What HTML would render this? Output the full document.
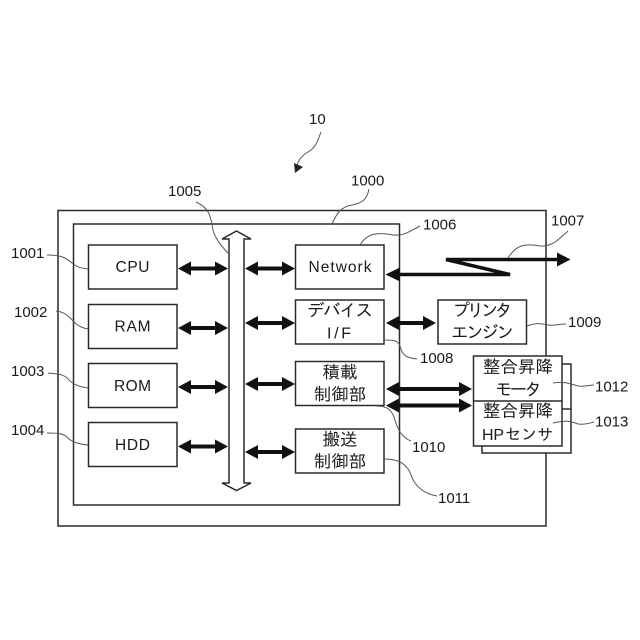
<!DOCTYPE html>
<html><head><meta charset="utf-8"><style>
html,body{margin:0;padding:0;background:#fff}
svg{display:block}
text{fill:#1a1a1a;font-family:"Liberation Sans","IPAGothic","Noto Sans CJK JP",sans-serif}
.l{font-size:15px}
.b{font-size:15.5px;text-anchor:middle}
.j{font-size:17.5px;text-anchor:middle}
.r{fill:#fff;stroke:#2a2a2a;stroke-width:1.5}
.c{fill:none;stroke:#555;stroke-width:1}
</style></head><body>
<svg width="640" height="640" viewBox="0 0 640 640" xmlns="http://www.w3.org/2000/svg">
<defs>
<g id="a"><path d="M0 0L13 -7V-2H37V-7L50 0L37 7V2H13V7Z" fill="#111"/></g>
</defs>
<rect x="58" y="210.500" width="488" height="315.500" fill="none" stroke="#2a2a2a" stroke-width="1.500"/>
<rect x="73.500" y="224" width="326" height="281" fill="none" stroke="#2a2a2a" stroke-width="1.500"/>

<rect class="r" x="88.500" y="245" width="88.500" height="44"/>
<rect class="r" x="88.500" y="304.500" width="88.500" height="44"/>
<rect class="r" x="88.500" y="363.500" width="88.500" height="44"/>
<rect class="r" x="88.500" y="422.500" width="88.500" height="44"/>
<rect class="r" x="295.500" y="245" width="88.500" height="44"/>
<rect class="r" x="295.500" y="300" width="88.500" height="44"/>
<rect class="r" x="295.500" y="361.500" width="88.500" height="44"/>
<rect class="r" x="295.500" y="429" width="88.500" height="44"/>
<rect class="r" x="438" y="300" width="88.500" height="44"/>

<rect class="r" x="482" y="364" width="89" height="89"/>
<path d="M562 409H571" stroke="#2a2a2a" stroke-width="1.500"/>
<rect class="r" x="473.500" y="356" width="88.500" height="90"/>
<path d="M473.500 401H562" stroke="#2a2a2a" stroke-width="1.500"/>

<path d="M236.500 231L251 239H244V483H251L236.500 490.500L222 483H229V239H222Z" fill="#fff" stroke="#2a2a2a" stroke-width="1.500"/>

<use href="#a" x="178" y="268.500"/>
<use href="#a" x="178" y="328"/>
<use href="#a" x="178" y="387"/>
<use href="#a" x="178" y="446.500"/>
<use href="#a" x="245" y="268.500"/>
<use href="#a" x="245" y="323"/>
<use href="#a" x="245" y="384"/>
<use href="#a" x="245" y="452"/>
<use href="#a" x="386" y="323"/>
<path d="M386 389L399 382V387H459V382L472 389L459 396V391H399V396Z" fill="#111"/>
<path d="M386 405.500L399 398.500V403.500H459V398.500L472 405.500L459 412.500V407.500H399V412.500Z" fill="#111"/>

<path d="M398 274.500H510L446 259.500H558" fill="none" stroke="#111" stroke-width="3.500" stroke-linejoin="miter"/>
<path d="M385.500 274.500L400 267.500V281.500Z" fill="#111"/>
<path d="M557 252.500L570.500 259.500L557 266.500Z" fill="#111"/>

<text class="b" x="132.500" y="272" textLength="34">CPU</text>
<text class="b" x="132.500" y="331.500" textLength="36">RAM</text>
<text class="b" x="132.500" y="391" textLength="37">ROM</text>
<text class="b" x="132.500" y="450" textLength="35">HDD</text>
<text class="b" x="340" y="272" textLength="63">Network</text>
<text class="j" x="340" y="316.500" textLength="66">デバイス</text>
<text class="j" x="339" y="338.500" style="font-size:16px" textLength="24">I/F</text>
<text class="j" x="340" y="378.500">積載</text>
<text class="j" x="340" y="400.500">制御部</text>
<text class="j" x="340" y="445.500">搬送</text>
<text class="j" x="340" y="467.500">制御部</text>
<text class="j" x="482.500" y="316.500" textLength="60">プリンタ</text>
<text class="j" x="482.500" y="338.500" textLength="63">エンジン</text>
<text class="j" x="518" y="373">整合昇降</text>
<text class="j" x="518.500" y="395.500" textLength="47">モータ</text>
<text class="j" x="518" y="417">整合昇降</text>
<text x="482" y="440" style="font-size:16px" textLength="22">HP</text>
<text x="505" y="440" style="font-size:16px" textLength="48">センサ</text>

<text class="l" x="309" y="124">10</text>
<text class="l" x="168" y="196">1005</text>
<text class="l" x="351" y="185.500">1000</text>
<text class="l" x="423" y="229.500">1006</text>
<text class="l" x="551" y="225.500">1007</text>
<text class="l" x="11" y="258">1001</text>
<text class="l" x="14" y="317">1002</text>
<text class="l" x="11" y="376">1003</text>
<text class="l" x="11" y="435">1004</text>
<text class="l" x="568" y="327">1009</text>
<text class="l" x="420" y="363">1008</text>
<text class="l" x="412" y="452">1010</text>
<text class="l" x="438" y="503">1011</text>
<text class="l" x="595" y="391.500">1012</text>
<text class="l" x="595" y="426.500">1013</text>

<path class="c" d="M321 132C317 143 315 148 308 152C301 156 299 160 297 165"/>
<path d="M294 163L303 167L295 173Z" fill="#222"/>
<path class="c" d="M196 202C210 208 211 218 213 230C215 238 222 247 229 254"/>
<path class="c" d="M47 255C60 255 65 257 72 263C78 268 82 268 88 269"/>
<path class="c" d="M56 311C66 312 70 318 75 323C80 327 83 328 88 329"/>
<path class="c" d="M48 373C58 374 65 374 70 381C76 386 82 387 88 388"/>
<path class="c" d="M47 433C58 433 64 433 69 439C74 443 80 444 88 445"/>
<path class="c" d="M369 189C367 200 362 203 352 205C340 207 336 215 332 224"/>
<path class="c" d="M420 226C410 231 405 236 393 235C378 232 367 233 360 245"/>
<path class="c" d="M568 231C558 240 552 247 540 246C525 243 516 245 508 258"/>
<path class="c" d="M527 326C535 323 540 323 548 325C553 326 559 324 566 324"/>
<path class="c" d="M384 340C392 340 398 340 400 346C402 354 405 358 417 359"/>
<path class="c" d="M376 406C388 406 392 410 395 420C398 431 403 438 411 441"/>
<path class="c" d="M385 459C397 459 407 463 411 475C415 487 425 494 437 496"/>
<path class="c" d="M553 383C565 381 570 384 578 386C585 387 590 385 594 385"/>
<path class="c" d="M553 423C565 420 570 421 578 424C585 425 590 423 594 422"/>
</svg>
</body></html>
